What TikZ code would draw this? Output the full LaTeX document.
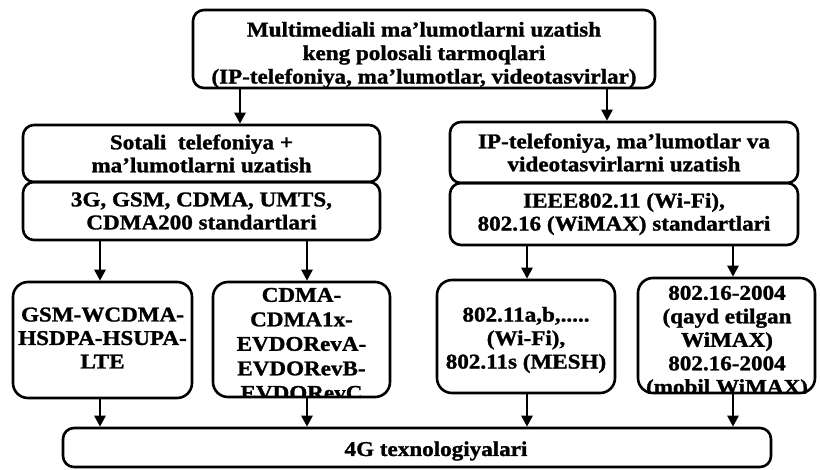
\documentclass[tikz,border=0pt]{standalone}
\usepackage{fontspec}
\setmainfont[FakeStretch=1.1, BoldFeatures={FakeBold=1.3}]{Liberation Serif}
\usetikzlibrary{arrows.meta}

\tikzset{
  box/.style={draw, line width=2.6pt, rounded corners=11pt, inner sep=0pt,
    align=center, font=\bfseries\fontsize{21}{23}\selectfont},
  lowbox/.style={box, rounded corners=15pt},
  txt/.style={inner sep=0pt, align=center, font=\bfseries\fontsize{21}{23.5}\selectfont},
  arr/.style={line width=2.6pt, -{Triangle[width=11pt,length=11pt]}}
}

\begin{document}
\begin{tikzpicture}[x=1pt,y=-1pt]
\useasboundingbox (0,0) rectangle (820,469);

% top level
\node[box, minimum width=462pt, minimum height=78pt] (T) at (424,49) {};
\node[txt] (Tt) at (424,55) {Multimediali ma’lumotlarni uzatish\\keng polosali tarmoqlari\\(IP-telefoniya, ma’lumotlar, videotasvirlar)};

% second level, left column
\node[box, minimum width=357pt, minimum height=57pt] (L1) at (201.5,153.5) {Sotali~ telefoniya +\\ma’lumotlarni uzatish};
\node[box, minimum width=357pt, minimum height=58pt] (L2) at (201.5,211) {3G, GSM, CDMA, UMTS,\\CDMA200 standartlari};

% second level, right column
\node[box, minimum width=348pt, minimum height=61pt] (R1) at (624,152.5) {IP-telefoniya, ma’lumotlar va\\videotasvirlarni uzatish};
\node[box, minimum width=348pt, minimum height=62pt] (R2) at (624,214) {IEEE802.11 (Wi-Fi),\\802.16 (WiMAX) standartlari};

% third level: text first (clipped to the frames), frames drawn on top
\node[txt] (B1t) at (102.5,338) {GSM-WCDMA-\\HSDPA-HSUPA-\\LTE};
\begin{scope}
  \clip (213,282) rectangle (390,397);
  \node[txt, font=\bfseries\fontsize{21}{24.5}\selectfont] (B2t) at (301.5,344) {CDMA-\\CDMA1x-\\EVDORevA-\\EVDORevB-\\EVDORevC};
\end{scope}
\node[txt] (B3t) at (526,340) {802.11a,b,.....\\(Wi-Fi),\\802.11s (MESH)};
\begin{scope}
  \clip (638,278) rectangle (815,393);
  \node[txt] (B4t) at (727,342) {802.16-2004\\(qayd etilgan\\WiMAX)\\802.16-2004\\(mobil WiMAX)};
\end{scope}

\node[lowbox, minimum width=179pt, minimum height=116pt] (B1) at (102.5,340) {};
\node[lowbox, minimum width=177pt, minimum height=115pt] (B2) at (301.5,339.5) {};
\node[lowbox, minimum width=178pt, minimum height=113pt] (B3) at (526,336.5) {};
\node[lowbox, minimum width=177pt, minimum height=115pt] (B4) at (726.5,335.5) {};

% bottom level
\node[box, minimum width=708pt, minimum height=39pt] (G) at (417,447.5) {};
\node[txt] (Gt) at (436,451) {4G texnologiyalari};

% connectors
\draw[arr] (240,0 |- T.south) -- (240,0 |- L1.north);
\draw[arr] (607,0 |- T.south) -- (607,0 |- R1.north);
\draw[arr] (100,0 |- L2.south) -- (100,0 |- B1.north);
\draw[arr] (307,0 |- L2.south) -- (307,0 |- B2.north);
\draw[arr] (527,0 |- R2.south) -- (527,0 |- B3.north);
\draw[arr] (733,0 |- R2.south) -- (733,0 |- B4.north);
\draw[arr] (100,0 |- B1.south) -- (100,0 |- G.north);
\draw[arr] (307,0 |- B2.south) -- (307,0 |- G.north);
\draw[arr] (527,0 |- B3.south) -- (527,0 |- G.north);
\draw[arr] (733,0 |- B4.south) -- (733,0 |- G.north);
\end{tikzpicture}
\end{document}
